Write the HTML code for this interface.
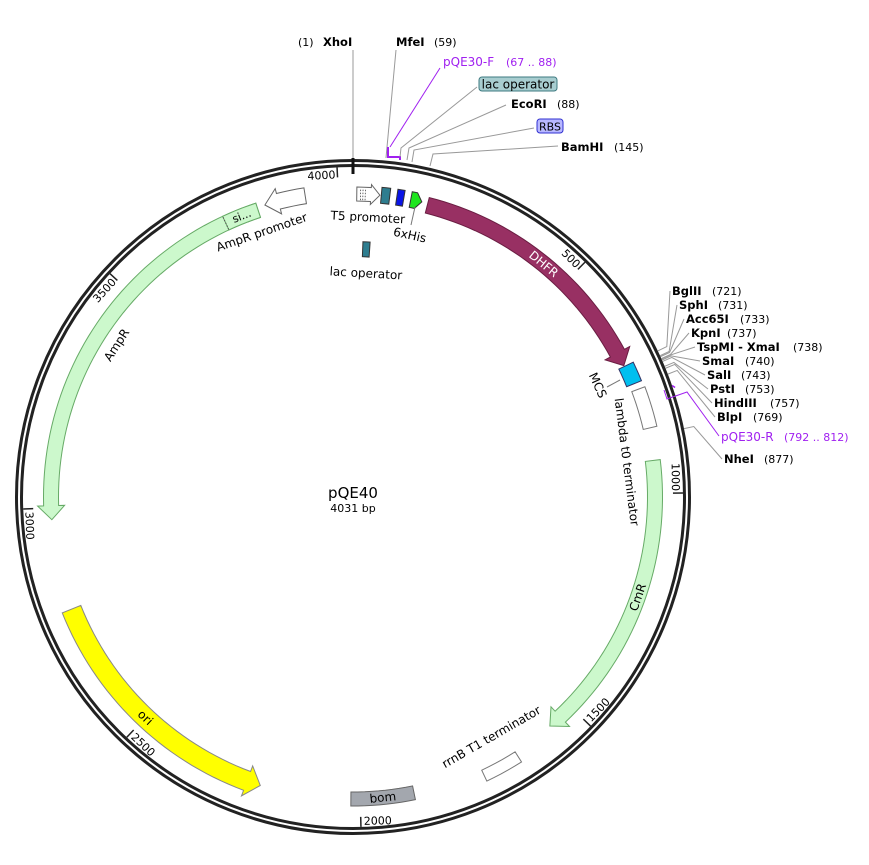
<!DOCTYPE html>
<html><head><meta charset="utf-8"><style>
html,body{margin:0;padding:0;background:#fff;}
svg{display:block;font-family:"DejaVu Sans","Liberation Sans",sans-serif;}
</style></head><body>
<svg id="s" width="869" height="865" viewBox="0 0 869 865" xmlns="http://www.w3.org/2000/svg"></svg>
<script>
var S=document.getElementById('s');
var CX=353,CY=497,N=4031;
function ang(p){return p/N*360;}
function pt(r,a){var t=a*Math.PI/180;return [CX+r*Math.sin(t),CY-r*Math.cos(t)];}
function add(h){S.insertAdjacentHTML('beforeend',h);}
function f(n){return n.toFixed(2);}
function arcPts(r,a1,a2){var pts=[];var n=Math.max(2,Math.ceil(Math.abs(a2-a1)/1.5));for(var i=0;i<=n;i++){pts.push(pt(r,a1+(a2-a1)*i/n));}return pts;}
function band(p1,p2,rm,w,arrow,fill,stroke,hw,hlp){
  var a1=ang(p1),a2=ang(p2);
  if(hw===undefined)hw=6; if(hlp===undefined)hlp=14;
  var ri=rm-w/2,ro=rm+w/2,hl=hlp/rm*180/Math.PI;
  var pts=[];
  if(arrow===1){
    var dir=a2>a1?1:-1;var ab=a2-dir*hl;
    pts=pts.concat(arcPts(ro,a1,ab));pts.push(pt(ro+hw,ab));pts.push(pt(rm,a2));pts.push(pt(ri-hw,ab));
    pts=pts.concat(arcPts(ri,ab,a1));
  }else{
    pts=pts.concat(arcPts(ro,a1,a2));pts=pts.concat(arcPts(ri,a2,a1));
  }
  add('<polygon points="'+pts.map(function(q){return f(q[0])+','+f(q[1]);}).join(' ')+'" fill="'+fill+'" stroke="'+(stroke||'#777')+'" stroke-width="1"/>');
}
function textAt(p,r,str,size,color,extra,forceRot){
  var a=ang(p);var q=pt(r,a);var rot=a;
  if(a>90&&a<270)rot=a-180;
  if(forceRot!==undefined)rot=forceRot;
  add('<text x="'+f(q[0])+'" y="'+f(q[1])+'" font-size="'+size+'" fill="'+(color||'#000')+'" text-anchor="middle" dominant-baseline="central" transform="rotate('+f(rot)+' '+f(q[0])+' '+f(q[1])+')" '+(extra||'')+'>'+str+'</text>');
}
add('<circle cx="'+CX+'" cy="'+CY+'" r="336.5" fill="none" stroke="#222" stroke-width="3"/>');
add('<circle cx="'+CX+'" cy="'+CY+'" r="331.5" fill="none" stroke="#222" stroke-width="3"/>');
[500,1000,1500,2000,2500,3000,3500,4000].forEach(function(p){
  var a=ang(p);var flip=(a>90&&a<270);
  var g='<g transform="rotate('+f(flip?a-180:a)+' '+CX+' '+CY+')">';
  if(!flip){g+='<line x1="'+CX+'" y1="'+(CY-330)+'" x2="'+CX+'" y2="'+(CY-320)+'" stroke="#222" stroke-width="1.5"/>';
    g+='<text x="'+(CX-2)+'" y="'+(CY-319)+'" font-size="11" text-anchor="end">'+p+'</text>';}
  else{g+='<line x1="'+CX+'" y1="'+(CY+330)+'" x2="'+CX+'" y2="'+(CY+320)+'" stroke="#222" stroke-width="1.5"/>';
    g+='<text x="'+(CX+3)+'" y="'+(CY+328)+'" font-size="11" text-anchor="start">'+p+'</text>';}
  add(g+'</g>');
});
add('<line x1="353" y1="158" x2="353" y2="174" stroke="#111" stroke-width="3"/>');
band(160,718,301,16,1,'#983063','#6a1d42');
band(720,762,303,16,0,'#00bfef','#336');
band(776,861,305,14,0,'#fff','#777');
band(930,1560,302,15,1,'#ccf8cc','#6a6');
band(1652,1733,308,12,0,'#fff','#777');
band(1885,2020,302,14,0,'#a3a7ae','#666');
band(2780,2215,303,20,1,'#ffff00','#888');
band(3826,2975,302,15,1,'#ccf8cc','#6a6');
band(3752,3826,302,15,0,'#ccf8cc','#6a6');
(function(){var a=pt(295,ang(3752)),b=pt(309,ang(3752));add('<line x1="'+f(a[0])+'" y1="'+f(a[1])+'" x2="'+f(b[0])+'" y2="'+f(b[1])+'" stroke="#555" stroke-dasharray="1.5,1.5"/>');})();
band(3930,3843,305,16,1,'#fff','#666',5,14);
band(8,57,303,14,1,'#fff','#666',3,9);
for(var i=0;i<3;i++){var a1=pt(297,ang(16+i*5)),b1=pt(309,ang(16+i*5));add('<line x1="'+f(a1[0])+'" y1="'+f(a1[1])+'" x2="'+f(b1[0])+'" y2="'+f(b1[1])+'" stroke="#444" stroke-dasharray="1.5,1.5" stroke-width="0.8"/>');}
band(60,78,303,16,0,'#2e7d8f','#333');
band(93,108,303,16,0,'#0a14e6','#333');
band(123,147,303,16,1,'#1ee61e','#333',0,6);
band(25,43,248,15,0,'#2e7d8f','#333');
textAt(34,280,'T5 promoter',12);
textAt(37,224,'lac operator',12);
textAt(137,268,'6xHis',12);
add('<line x1="415" y1="207" x2="411" y2="225" stroke="#777"/>');
textAt(440,301,'DHFR',12,'#fff');
textAt(733,269,'MCS',12);
add('<line x1="607" y1="387" x2="620" y2="380" stroke="#777"/>');
textAt(926,276,'lambda t0 terminator',12);
textAt(1225,302,'CmR',12);
textAt(1680,277,'rrnB T1 terminator',12);
textAt(1952,302,'bom',12);
textAt(2500,303,'ori',12);
textAt(3390,281,'AmpR',12);
textAt(3818,280,'AmpR promoter',12);
textAt(3789,302,'si...',11);
add('<text x="353" y="498" font-size="15" text-anchor="middle">pQE40</text>');
add('<text x="353" y="512" font-size="11" text-anchor="middle">4031 bp</text>');
function pl(pts,c,w){add('<polyline points="'+pts.map(function(q){return q[0]+','+q[1];}).join(' ')+'" fill="none" stroke="'+(c||'#999')+'" stroke-width="'+(w||1)+'"/>');}
pl([[353,50],[353,158]]);
pl([[396,50],[386,158]]);
pl([[440,68],[390,147]],'#a020f0');
pl([[388,147],[388,157],[400,157],[400,160]],'#a020f0',2);
pl([[477,87],[401,148],[400,157]]);
pl([[506,105],[409,148],[407,160]]);
pl([[534,128],[414,150],[412,162]]);
pl([[558,146],[433,154],[430,166]]);
function lbl(x,y,name,num,color,nx){
  add('<text x="'+x+'" y="'+y+'" font-size="11.5" font-weight="bold" fill="'+(color||'#000')+'">'+name+'</text>');
  if(num)add('<text x="'+nx+'" y="'+y+'" font-size="11" fill="'+(color||'#000')+'">'+num+'</text>');
}
add('<text x="298" y="46" font-size="11">(1)</text>');
lbl(323,46,'XhoI');
lbl(396,46,'MfeI','(59)',null,434);
add('<text x="443" y="66" font-size="12" fill="#a020f0">pQE30-F</text><text x="506" y="66" font-size="11" fill="#a020f0">(67 .. 88)</text>');
add('<rect x="479" y="77" width="78" height="14" rx="3" fill="#a8cdd0" stroke="#3e7a80"/><text x="518" y="88.5" font-size="12" text-anchor="middle">lac operator</text>');
lbl(511,108,'EcoRI','(88)',null,557);
add('<rect x="537" y="119" width="26" height="14" rx="3" fill="#b8b8ff" stroke="#3030d0"/><text x="550" y="130.5" font-size="11" text-anchor="middle">RBS</text>');
lbl(561,151,'BamHI','(145)',null,614);
var R=[[721,672,295,'BglII','(721)',712],[731,679,309,'SphI','(731)',718],[733,686,323,'Acc65I','(733)',740],[737,691,337,'KpnI','(737)',727],[738,697,351,'TspMI - XmaI','(738)',793],[740,702,365,'SmaI','(740)',745],[743,707,379,'SalI','(743)',741],[753,710,393,'PstI','(753)',745],[757,714,407,'HindIII','(757)',770],[769,717,421,'BlpI','(769)',753],[877,724,463,'NheI','(877)',764]];
R.forEach(function(r){
  var a=ang(r[0]);var p1=pt(338,a),p2=pt(348,a);
  pl([[f(p1[0]),f(p1[1])],[f(p2[0]),f(p2[1])],[r[1]-2,r[2]-4]]);
  lbl(r[1],r[2],r[3],r[4],null,r[5]);
});
(function(){var p1=pt(338,ang(792));
  pl([[f(p1[0]),f(p1[1])],[f(p1[0]+3),f(p1[1]+2)]],'#a020f0',1.5);
  pl([[664,390],[667,399],[687,392],[719,436]],'#a020f0');})();
add('<text x="721" y="441" font-size="12" fill="#a020f0">pQE30-R</text><text x="784" y="441" font-size="11" fill="#a020f0">(792 .. 812)</text>');
</script>
</body></html>
